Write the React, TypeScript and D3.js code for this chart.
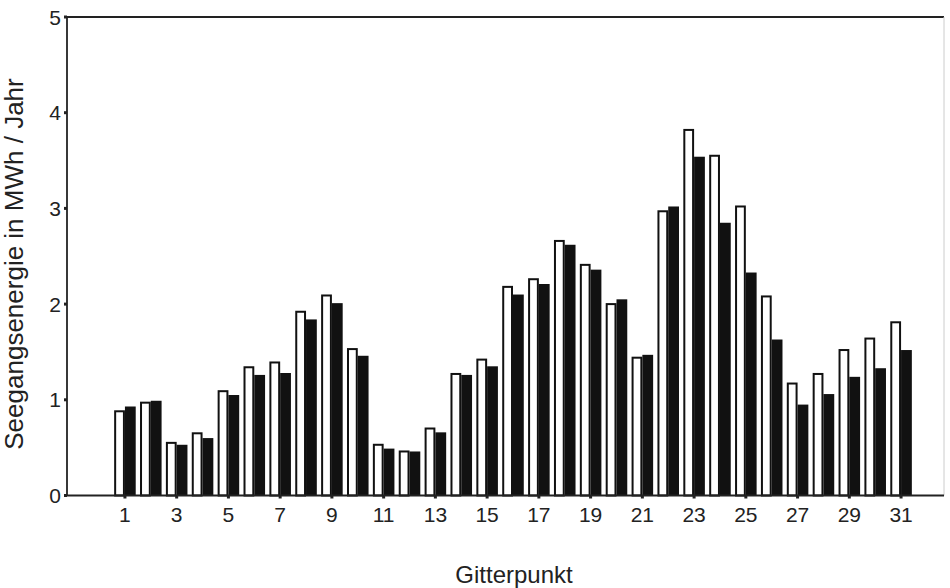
import React, { useRef, useEffect } from "react";
import * as d3 from "d3";

// Gitterpunkt 1..31, two series per point (white = first, black = second)
const points = d3.range(1, 32).map(String);
const whiteValues = [
  0.88, 0.97, 0.55, 0.65, 1.09, 1.34, 1.39, 1.92, 2.09, 1.53, 0.53, 0.46, 0.7, 1.27, 1.42, 2.18,
  2.26, 2.66, 2.41, 2.0, 1.44, 2.97, 3.82, 3.55, 3.02, 2.08, 1.17, 1.27, 1.52, 1.64, 1.81,
];
const blackValues = [
  0.93, 0.99, 0.53, 0.6, 1.05, 1.26, 1.28, 1.84, 2.01, 1.46, 0.49, 0.46, 0.66, 1.26, 1.35, 2.1,
  2.21, 2.62, 2.36, 2.05, 1.47, 3.02, 3.54, 2.85, 2.33, 1.63, 0.95, 1.06, 1.24, 1.33, 1.52,
];
const yTicks = [0, 1, 2, 3, 4, 5];
const xTickLabels = points.filter((d) => +d % 2 === 1);

const W = 950;
const H = 588;
const left = 67;
const right = 944;
const top = 17;
const bottom = 495.5;

function App() {
  const svgRef = useRef<any>();

  useEffect(() => {
    const svg = d3.select(svgRef.current);
    svg.selectAll("*").remove();

    const y = d3.scaleLinear().domain([0, 5]).range([bottom, top]);
    const x = d3.scaleBand<string>().domain(points).range([112, 914]);
    const x1 = d3
      .scaleBand<string>()
      .domain(["w", "b"])
      .range([0, x.bandwidth()])
      .paddingOuter(0.2);

    const rows = points.map((p, i) => ({ p, w: whiteValues[i], b: blackValues[i] }));

    // frame
    svg
      .append("line")
      .attr("x1", left)
      .attr("x2", right)
      .attr("y1", top)
      .attr("y2", top)
      .attr("stroke", "#222")
      .attr("stroke-width", 1.8);
    svg
      .append("line")
      .attr("x1", right)
      .attr("x2", right)
      .attr("y1", top)
      .attr("y2", bottom)
      .attr("stroke", "#ccc")
      .attr("stroke-width", 1);

    // bars
    const g = svg.append("g");
    g.selectAll("rect.w")
      .data(rows)
      .join("rect")
      .attr("class", "w")
      .attr("x", (d) => x(d.p)! + x1("w")! + 1)
      .attr("y", (d) => y(d.w))
      .attr("width", x1.bandwidth() - 2)
      .attr("height", (d) => y(0) - y(d.w))
      .attr("fill", "#fff")
      .attr("stroke", "#111")
      .attr("stroke-width", 2);
    g.selectAll("rect.b")
      .data(rows)
      .join("rect")
      .attr("class", "b")
      .attr("x", (d) => x(d.p)! + x1("b")!)
      .attr("y", (d) => y(d.b))
      .attr("width", x1.bandwidth())
      .attr("height", (d) => y(0) - y(d.b))
      .attr("fill", "#111");

    // y axis
    const yAxis = svg.append("g").attr("transform", `translate(${left},0)`);
    yAxis
      .append("line")
      .attr("y1", top)
      .attr("y2", bottom)
      .attr("stroke", "#222")
      .attr("stroke-width", 1.8);
    yAxis
      .selectAll("line.t")
      .data(yTicks)
      .join("line")
      .attr("class", "t")
      .attr("x1", -3)
      .attr("x2", 0)
      .attr("y1", (d) => y(d))
      .attr("y2", (d) => y(d))
      .attr("stroke", "#222")
      .attr("stroke-width", 3);
    yAxis
      .selectAll("text")
      .data(yTicks)
      .join("text")
      .attr("x", -6)
      .attr("y", (d) => y(d))
      .attr("dy", "0.36em")
      .attr("text-anchor", "end")
      .attr("font-size", 21)
      .attr("fill", "#222")
      .text((d) => d);

    // x axis
    const xAxis = svg.append("g").attr("transform", `translate(0,${bottom})`);
    xAxis
      .append("line")
      .attr("x1", left)
      .attr("x2", right)
      .attr("stroke", "#222")
      .attr("stroke-width", 1.8);
    xAxis
      .selectAll("line.t")
      .data(xTickLabels)
      .join("line")
      .attr("class", "t")
      .attr("x1", (d) => x(d)! + x.bandwidth() / 2)
      .attr("x2", (d) => x(d)! + x.bandwidth() / 2)
      .attr("y1", 0)
      .attr("y2", 3)
      .attr("stroke", "#222")
      .attr("stroke-width", 3);
    xAxis
      .selectAll("text")
      .data(xTickLabels)
      .join("text")
      .attr("x", (d) => x(d)! + x.bandwidth() / 2)
      .attr("y", 26)
      .attr("text-anchor", "middle")
      .attr("font-size", 21)
      .attr("fill", "#222")
      .text((d) => d);

    // axis titles
    svg
      .append("text")
      .attr("transform", `translate(23,264) rotate(-90)`)
      .attr("text-anchor", "middle")
      .attr("font-size", 26)
      .attr("fill", "#222")
      .text("Seegangsenergie in MWh / Jahr");
    svg
      .append("text")
      .attr("x", 514)
      .attr("y", 583)
      .attr("text-anchor", "middle")
      .attr("font-size", 24)
      .attr("fill", "#222")
      .text("Gitterpunkt");
  }, []);

  return (
    <div style={{ position: "absolute", left: 0, top: 0 }}>
      <svg
        ref={svgRef}
        width={W}
        height={H}
        style={{ display: "block", background: "#fff", fontFamily: "'Liberation Sans', Arial, sans-serif" }}
      />
    </div>
  );
}

export default App;
